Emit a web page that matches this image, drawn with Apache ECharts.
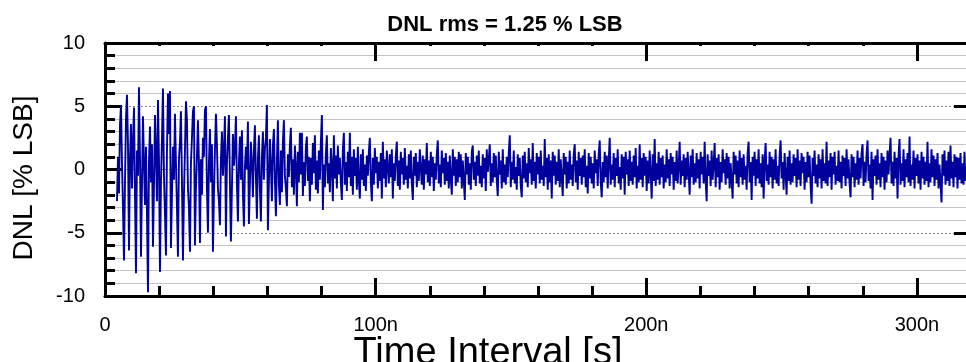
<!DOCTYPE html>
<html><head><meta charset="utf-8">
<script src="https://cdn.jsdelivr.net/npm/echarts@6/dist/echarts.min.js"></script>
<style>html,body{margin:0;padding:0;background:#fff}#c{width:966px;height:362px}</style>
</head><body><div id="c"></div>
<script>
const titleText = 'DNL rms = 1.25 % LSB';
const xName = 'Time Interval [s]';
const yName = 'DNL [% LSB]';
const xTickLabels = ['0', '100n', '200n', '300n'];
const yTickLabels = ['-10', '-5', '0', '5', '10'];
// sampling grid of the record (ns)
const t0 = 4.43, dt = 0.3693;

const dnlSeg1 = [-2.5,1.0,-1.9,3.5,5.1,0.5,-3.0,-7.2,-1.0,4.0,
5.9,2.0,-6.4,0.8,3.6,-1.5,2.2,4.9,-2.0,-8.2,
1.5,-0.5,6.5,1.0,-6.9,-1.2,4.2,0.5,-2.8,1.8,
-3.5,-9.7,0.6,3.4,-1.0,2.0,-6.1,-1.5,4.3,1.2,
-2.5,5.5,0.8,-8.1,-1.0,2.5,6.4,-0.5,-3.5,-6.8,
1.5,6.0,2.8,6.2,-6.2,-2.0,1.8,-0.8,4.4,0.5,
-3.0,-6.9,0.8,2.2,4.6,-1.0,-7.2,-2.0,1.5,5.4,
3.9,-1.5,-3.0,-6.5,0.5,2.5,4.6,5.0,-6.0,-1.5,
1.0,3.9,0.5,-5.8];
const dnlSeg2 = [0.8,-2.0,2.5,1.0,4.7,5.0,-1.5,-5.0,0.5,3.2,
-1.0,2.0,-6.5,-2.0,1.5,4.4,2.0,-1.5,-2.5,-4.4,
0.8,3.0,-0.5,1.5,4.2,-5.3,0.5,2.5,4.3,-1.0,
-5.7,-1.5,2.8,0.3,1.8,4.2,-1.2,-4.1,0.5,2.6,
-0.8,3.1,-2.0,-4.5,0.2,1.8,0.0,3.8,-4.3,-1.0,
2.2,0.5,-2.2,1.5,3.5,-0.5,-3.9,0.8,2.7,-1.5,
-4.1,1.0,3.0,-0.8,1.6,2.5,5.1,-4.8,-1.0,2.4,
0.3,-2.5,1.9,3.2,-0.8,-3.7,0.6,3.9,-1.2,-2.8];
const dnlSeg3 = [1.5,-1.8,2.2,3.9,-0.5,-1.5,-2.9,1.2,-0.6,2.0,
3.3,-1.4,0.8,-2.0,1.9,0.2,-2.9,1.4,-1.0,2.9,
-0.4,2.9,-2.1,0.6,-1.3,1.8,2.6,-0.9,1.0,-2.5,
0.9,-1.2,2.1,-0.3,2.7,-1.6,0.7,-1.9,1.5,-0.8,
2.2,4.3,-3.2,0.4,-1.4,1.3,2.7,-1.1,0.5,-1.8,
1.7,0.2,-2.5,2.7,-0.7,1.1,-1.5,1.9,-0.4,0.9,
-1.0,-2.4,1.6,2.9,-1.2,0.6,-1.7,1.4,-0.6,2.9,
-1.3,1.0,-2.0,1.6,-0.5,0.9,-1.6,1.8,-0.9,-2.3];
const dnlSeg4 = [1.2,-0.8,1.6,-1.3,0.4,-1.7,1.1,-0.5,1.4,2.5,
-1.0,-2.5,0.9,-1.2,1.7,-0.3,1.0,-1.5,0.6,-0.9,
1.3,-2.3,2.2,-0.7,0.8,-1.4,1.5,0.2,-1.1,1.2,
-0.6,1.6,-2.3,0.5,-0.9,1.1,2.2,-1.3,0.7,-1.6,
1.4,-0.4,0.9,-1.2,1.7,-0.8,0.3,-1.5,1.2,-0.7,
1.5,-1.1,-2.4,1.0,-0.5,1.3,-1.4,0.6,-0.9,1.6,
0.1,-1.2,1.1,-1.6,0.8,-0.4,2.1,-1.0,0.7,-1.3,
1.4,-0.6,1.0,-1.7,0.5,-0.8,1.2,2.3,-1.1,0.4,
-1.4,1.5,-0.3,0.9,-1.2,1.3,-0.9,0.6,-1.5,1.1,
-0.7,-2.0,1.6,-0.5,1.0,-1.3,0.8,-1.0,1.4,-0.6];
const dnlSeg5 = [1.2,-1.5,0.7,-0.9,-2.4,1.3,-0.4,1.0,-1.2,0.5,
-1.6,1.4,1.9,-0.8,0.6,-1.3,1.1,-0.5,1.5,-1.1,
0.3,-1.4,1.2,-0.7,0.9,-1.7,1.6,-0.2,0.8,2.0,
-1.3,0.5,-1.0,1.3,-0.6,1.1,-0.9,-2.1,1.4,-0.4,
0.7,-1.5,1.6,-1.0,0.4,-1.2,1.0,-0.6,1.3,2.7,
-1.4,0.6,-0.8,1.5,-1.1,0.2,-1.6,1.2,-0.5,0.9,
-1.3,-2.2,1.1,-0.7,1.4,-1.0,0.5,-1.4,1.7,-0.3,
0.8,-1.2,2.1,-0.9,0.6,-1.5,1.3,-0.4,1.0,-1.1,
1.5,-0.8,0.3,-1.3,2.4,-0.6,0.9,-1.6,1.2,-1.0,
0.7,-2.3,1.4,-0.5,1.1,-1.2,0.6,-0.9,1.6,-1.4];
const dnlSeg6 = [0.8,-0.7,-2.1,1.3,-0.4,1.0,-1.5,0.6,-1.1,1.5,
-0.8,0.4,-1.3,1.2,2.0,-1.0,0.7,-1.6,1.4,-0.5,
0.9,-1.2,1.1,-0.6,1.6,-1.4,0.3,-1.9,1.3,-0.7,
1.0,-1.1,0.5,-1.5,1.5,-0.3,0.8,-1.3,1.2,2.3,
-0.9,-2.2,0.6,-1.0,1.4,-0.6,1.1,-1.5,0.7,2.5,
-1.2,0.4,-0.8,1.3,-1.4,0.9,-0.5,1.6,-1.1,0.2,
-1.6,1.2,-0.7,1.0,-2.0,1.4,-0.4,0.8,-1.3,1.5,
-0.9,0.6,-1.2,1.1,-0.6,1.7,-1.5,0.3,-1.0,2.0,
-0.8,0.9,-1.4,1.3,-0.5,1.0,-1.7,0.7,-1.1,1.5,
-0.3,-2.3,1.2,-0.9,2.4,-1.3,0.5,-0.8,1.4,-1.2];
const dnlSeg7 = [0.9,-0.6,1.1,-1.5,0.4,-1.0,1.6,-0.7,0.8,-1.3,
1.3,-0.4,1.0,-1.6,0.6,-0.9,1.5,-1.1,0.3,2.2,
-1.2,0.7,-0.5,1.2,-1.4,0.9,-0.8,1.4,-0.3,-2.0,
1.1,-0.6,1.6,-1.2,0.5,-1.0,1.3,-0.7,0.8,-1.5,
1.4,-0.4,1.0,-1.1,2.2,-0.9,-2.5,1.2,-0.5,0.7,
-1.3,1.5,-0.8,0.4,2.1,-1.4,0.9,-0.6,1.2,-1.6,
0.6,-1.0,1.6,-0.3,0.8,-1.2,1.3,-0.7,1.0,-1.5,
0.5,-0.9,-2.3,1.4,-0.4,1.1,-1.1,0.7,-1.4,1.5,
-0.6,0.9,-1.2,1.2,-0.8,0.3,-1.6,1.3,2.2,-1.0,
0.6,-2.4,1.0,-0.5,1.4,-1.3,0.8,-0.7,1.6,-1.1];
const dnlSeg8 = [0.5,-1.4,1.2,-2.3,0.7,2.1,-0.9,0.4,-1.2,1.4,
-0.6,1.0,-1.5,0.8,-0.8,1.6,-1.1,0.3,-1.3,1.1,
2.3,-0.7,0.6,-1.6,1.3,-0.4,-2.0,1.0,-0.9,1.5,
-1.2,0.5,-1.0,1.2,-0.5,0.9,-1.4,1.6,-0.8,0.7,
-1.3,1.3,-0.3,1.0,-1.6,0.6,-1.0,1.4,-0.6,1.1,
-1.2,-2.7,0.9,-0.5,1.5,-1.1,0.4,-1.4,1.2,-0.7,
0.8,-1.5,1.6,-0.9,0.5,-1.1,2.2,-1.3,0.7,-0.6,
1.3,-1.6,1.0,-0.4,1.4,-1.2,0.3,-0.9,1.5,-1.0,
0.6,-1.5,1.1,-0.5,0.9,-1.3,1.6,-0.7,0.8,-1.1,
-2.2,1.2,-0.6,1.0,-1.4,0.5,-0.8,1.5,-1.2,0.9];
const dnlSeg9 = [-0.7,1.3,2.0,-1.3,0.6,-1.0,1.2,2.3,-0.9,0.4,
-1.5,1.4,-2.4,0.8,-0.5,1.1,-1.2,1.6,-0.8,0.5,
-1.4,1.3,-0.6,1.0,-1.6,0.7,-1.0,1.5,-0.4,1.2,
2.5,-1.1,0.6,-1.3,1.4,-0.7,0.9,-2.3,1.1,2.4,
-1.2,0.5,-0.9,1.6,-1.4,0.8,-0.6,1.3,-1.0,2.6,
-1.3,0.4,-0.8,1.5,-1.5,0.9,-0.5,1.2,-1.1,0.7,
-1.6,1.4,-0.7,1.0,-1.2,0.6,-0.9,2.2,-1.4,0.5,
-1.0,1.6,-0.6,1.1,-1.3,0.8,-0.8,1.3,-1.5,0.4,
-1.1,-2.6,1.2,-0.5,1.5,-1.2,0.7,-0.9,1.4,-1.3,
1.9,-0.7,0.6,-1.4,1.2,-0.6,1.0,-1.5,0.9,-0.8,
1.3,-1.1,0.5,-1.2,1.4,-0.9];

const dnl = [].concat(dnlSeg1, dnlSeg2, dnlSeg3, dnlSeg4, dnlSeg5, dnlSeg6, dnlSeg7, dnlSeg8, dnlSeg9);
const points = dnl.map((v, i) => [t0 + i * dt, v]);

const FONT = '"Liberation Sans", Arial, sans-serif';
const XMIN = 0, XMAX = 320, YMIN = -10, YMAX = 10;

function xAxisBase(pos, tickLen, interval, showLabel, showLine) {
  return {
    type: 'value', position: pos, min: XMIN, max: XMAX, interval: interval,
    axisLine: { show: showLine, onZero: false, lineStyle: { color: '#000', width: 3 } },
    axisTick: { show: true, inside: true, length: tickLen, lineStyle: { color: '#000', width: 3 } },
    axisLabel: showLabel ? {
      show: true, margin: 19, color: '#000', fontSize: 20, fontFamily: FONT, showMaxLabel: false,
      formatter: v => { const k = Math.round(v / 100); return (v % 100 === 0 && k < xTickLabels.length) ? xTickLabels[k] : ''; }
    } : { show: false },
    splitLine: { show: false }, minorTick: { show: false }
  };
}

const xAxes = [
  Object.assign(xAxisBase('bottom', 18, 100, true, true), {
    name: xName, nameLocation: 'middle', nameGap: 39, nameMoveOverlap: false,
    nameTextStyle: { color: '#000', fontSize: 38, fontFamily: FONT, padding: [0, 100, 0, 0] }
  }),
  xAxisBase('bottom', 10, 20, false, false),
  xAxisBase('top', 18, 100, false, true),
  xAxisBase('top', 3, 20, false, false)
];

const yAxes = [
  {
    type: 'value', position: 'left', min: YMIN, max: YMAX, interval: 5,
    name: yName, nameLocation: 'middle', nameGap: 67, nameMoveOverlap: false,
    nameTextStyle: { color: '#000', fontSize: 28, fontFamily: FONT, padding: [0, 17, 0, 0] },
    axisLine: { show: true, onZero: false, lineStyle: { color: '#000', width: 3 } },
    axisTick: { show: true, inside: true, length: 17, lineStyle: { color: '#000', width: 3 } },
    minorTick: { show: true, splitNumber: 5, length: 10, lineStyle: { color: '#000', width: 3 } },
    axisLabel: { show: true, margin: 20, color: '#000', fontSize: 20, fontFamily: FONT,
      formatter: v => yTickLabels[Math.round((v - YMIN) / 5)] },
    splitLine: { show: true, lineStyle: { color: '#8a8a8a', type: [2, 2], width: 1 } },
    minorSplitLine: { show: true, lineStyle: { color: '#c4c4c4', width: 1 } }
  },
  {
    type: 'value', position: 'right', min: YMIN, max: YMAX, interval: 5,
    axisLine: { show: true, onZero: false, lineStyle: { color: '#000', width: 3 } },
    axisTick: { show: true, inside: true, length: 17, lineStyle: { color: '#000', width: 3 } },
    axisLabel: { show: false }, splitLine: { show: false }, minorTick: { show: false }
  }
];

const chart = echarts.init(document.getElementById('c'), null, { renderer: 'canvas' });
chart.setOption({
  animation: false,
  backgroundColor: '#fff',
  title: {
    text: titleText, left: 500, top: 9, textAlign: 'center',
    textStyle: { color: '#000', fontSize: 22, fontWeight: 'bold', fontFamily: FONT }
  },
  grid: { left: 105, right: -5, top: 43, bottom: 66, containLabel: false, outerBoundsMode: 'none' },
  xAxis: xAxes,
  yAxis: yAxes,
  series: [{
    type: 'line', xAxisIndex: 0, yAxisIndex: 0, data: points,
    showSymbol: false, symbol: 'none', sampling: false, clip: true,
    lineStyle: { color: '#00009c', width: 1.9 },
    emphasis: { disabled: true }
  }]
});
</script>
</body></html>
